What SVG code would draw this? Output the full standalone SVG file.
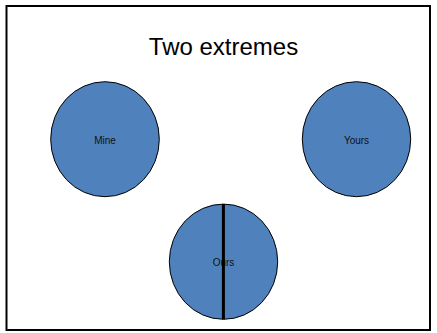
<svg xmlns="http://www.w3.org/2000/svg" width="437" height="333" viewBox="0 0 437 333">
  <style>
    .bubble { fill: #4F81BD; stroke: #000; stroke-width: 1; }
    .label { font-family: "Liberation Sans", Arial, sans-serif; font-size: 10px; fill: #111; text-anchor: middle; }
    .title { font-family: "Liberation Sans", Arial, sans-serif; font-size: 24px; fill: #000; text-anchor: middle; }
  </style>
  <rect x="0" y="0" width="437" height="333" fill="#fff"/>
  <rect id="frame" x="6.5" y="6" width="423.5" height="324" fill="none" stroke="#000" stroke-width="2"/>
  <g id="title">
    <text class="title" x="223.5" y="55">Two extremes</text>
  </g>
  <g id="mine">
    <ellipse class="bubble" cx="105" cy="139.2" rx="54.3" ry="57.5"/>
    <text class="label" x="105" y="144">Mine</text>
  </g>
  <g id="yours">
    <ellipse class="bubble" cx="356.5" cy="139.2" rx="54.2" ry="57.5"/>
    <text class="label" x="356.5" y="144">Yours</text>
  </g>
  <g id="ours">
    <ellipse class="bubble" cx="223.5" cy="261.7" rx="54.2" ry="57.6"/>
    <text class="label" x="223.5" y="266">Ours</text>
    <line x1="223.4" y1="204" x2="223.4" y2="319.3" stroke="#000" stroke-width="3"/>
  </g>
  <g id="connectors"></g>
</svg>
